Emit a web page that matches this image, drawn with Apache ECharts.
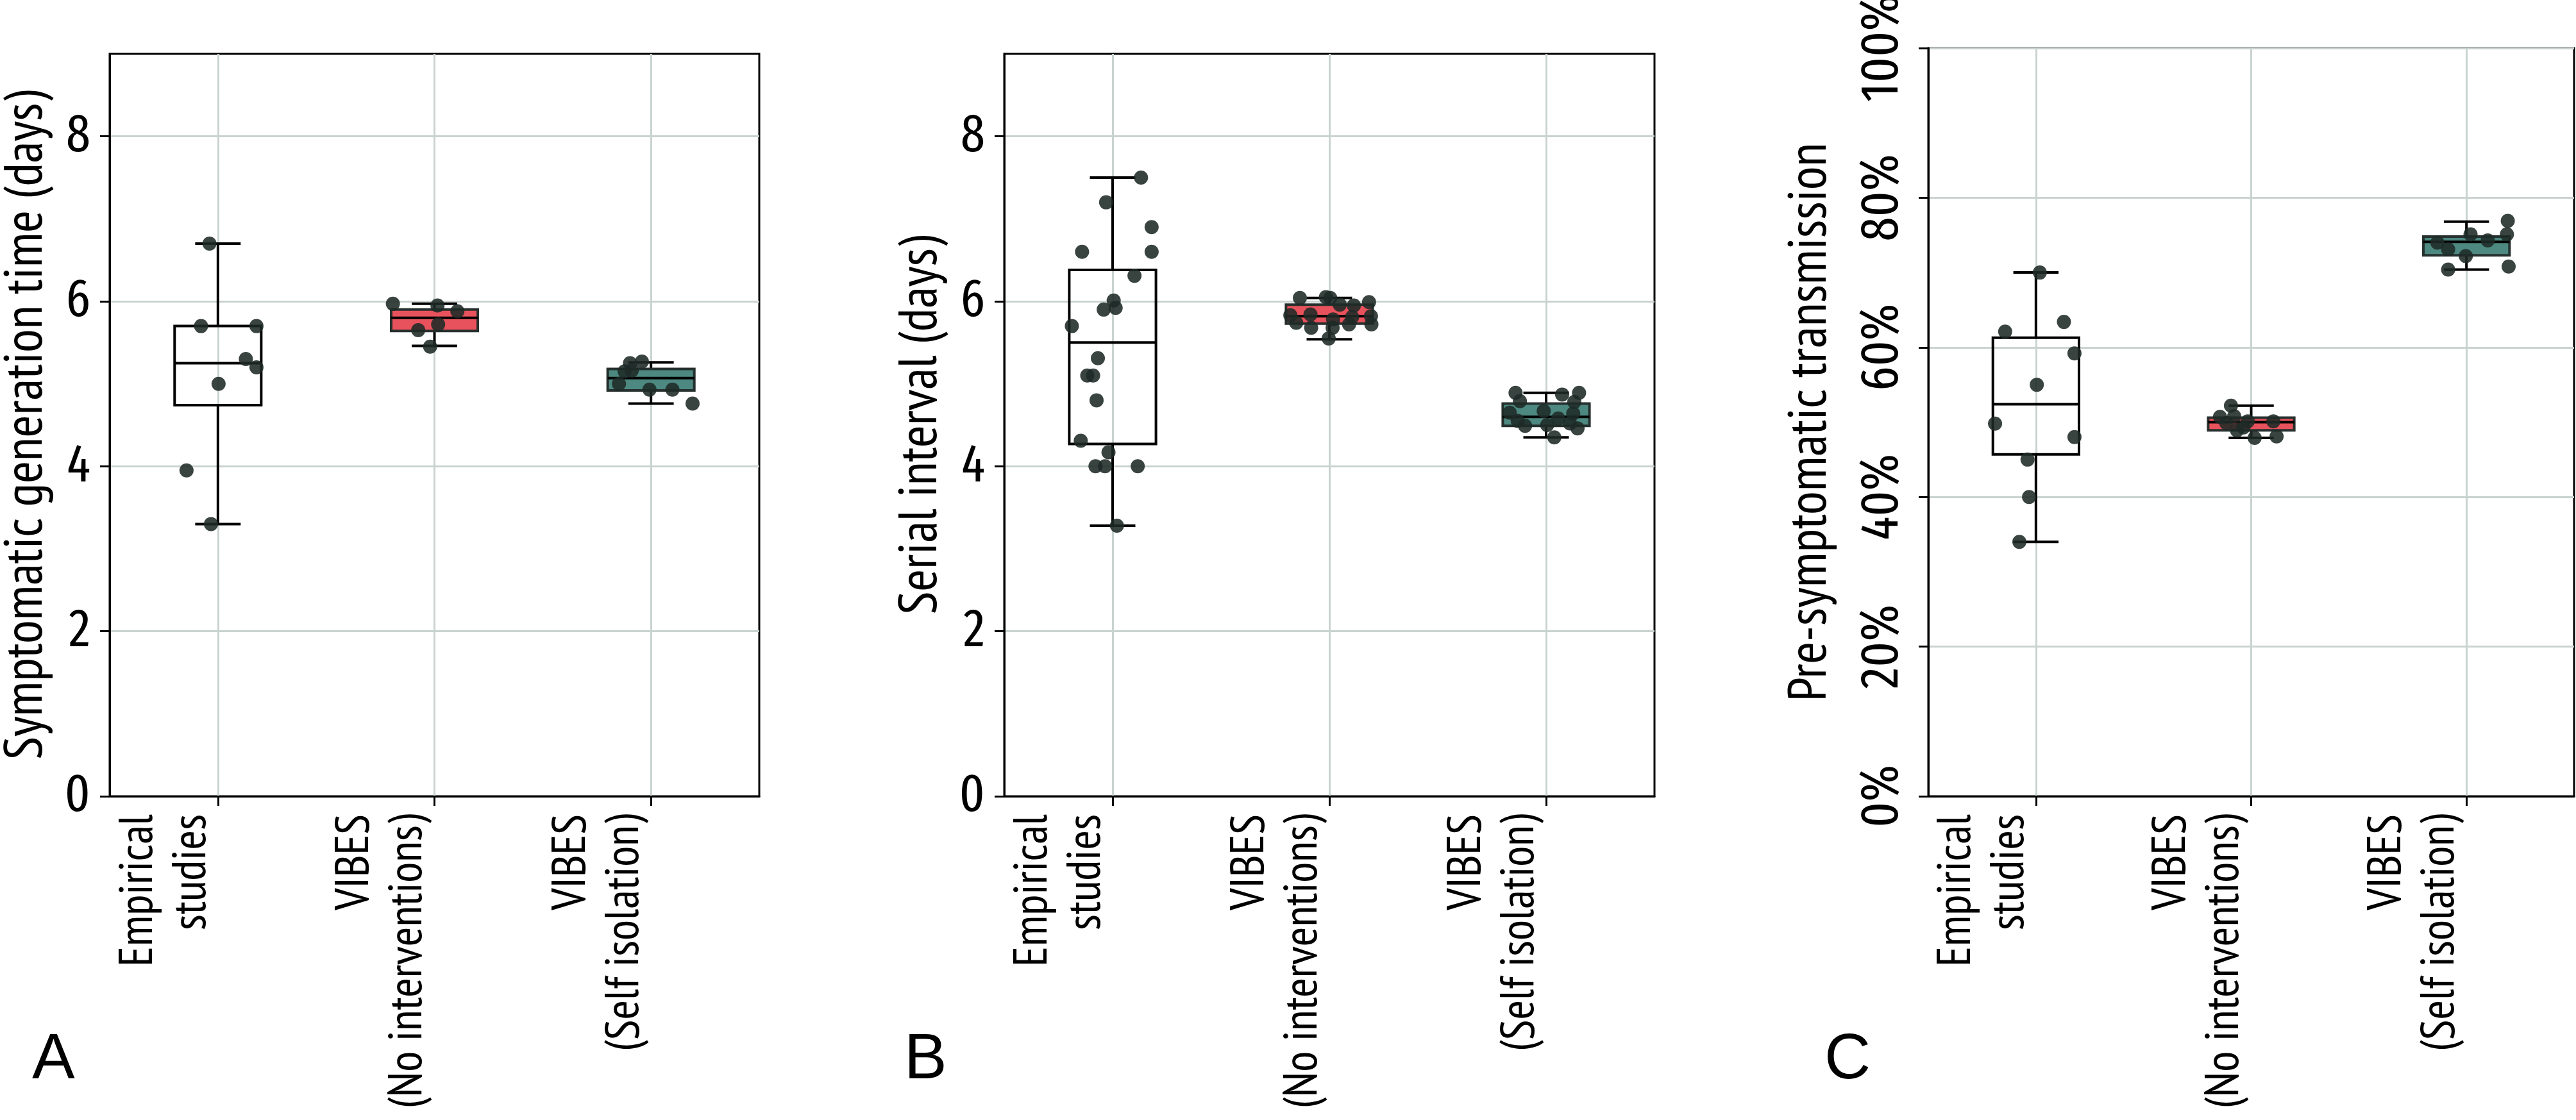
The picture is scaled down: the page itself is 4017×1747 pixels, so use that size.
<!DOCTYPE html>
<html><head><meta charset="utf-8">
<script src="https://cdn.jsdelivr.net/npm/echarts@6/dist/echarts.min.js"></script>
<style>html,body{margin:0;padding:0;background:#fff}#c{width:4017px;height:1747px}</style>
</head><body><div id="c"></div>
<script>
// ---------- data ----------
const categories = ['Empirical\nstudies', 'VIBES\n(No interventions)', 'VIBES\n(Self isolation)'];
const panelLetters = ['A', 'B', 'C'];
const yNames = ['Symptomatic generation time (days)', 'Serial interval (days)', 'Pre-symptomatic transmission'];
const yTicksDays = [0, 2, 4, 6, 8];
const yTicksPct = [0, 0.2, 0.4, 0.6, 0.8, 1.0];
const xTickPos = [0.5, 1.5, 2.5];

// box statistics: [lower whisker, Q1, median, Q3, upper whisker]
const genBox = [[3.30, 4.74, 5.25, 5.70, 6.70], [5.46, 5.64, 5.80, 5.90, 5.97], [4.76, 4.92, 5.07, 5.18, 5.26]];
const serBox = [[3.28, 4.27, 5.50, 6.38, 7.50], [5.54, 5.73, 5.82, 5.96, 6.04], [4.35, 4.49, 4.60, 4.76, 4.89]];
const preBox = [[0.340, 0.457, 0.524, 0.613, 0.700], [0.479, 0.489, 0.500, 0.506, 0.522], [0.704, 0.723, 0.741, 0.748, 0.768]];

// points: [horizontal jitter from category centre, value]
const genEmp = [[-0.039, 6.70], [-0.078, 5.70], [0.178, 5.70], [0.129, 5.30], [0.178, 5.20], [0.003, 5.00], [-0.145, 3.95], [-0.032, 3.30]];
const genNoInt = [[-0.192, 5.97], [0.014, 5.95], [0.106, 5.88], [0.017, 5.72], [-0.075, 5.65], [-0.020, 5.45]];
const genSelf = [[-0.097, 5.25], [-0.042, 5.27], [-0.122, 5.15], [-0.089, 5.16], [-0.148, 5.00], [-0.007, 4.93], [0.099, 4.93], [0.192, 4.76]];

const serEmp = [[0.131, 7.50], [-0.030, 7.20], [0.180, 6.90], [-0.141, 6.60], [0.180, 6.60], [0.101, 6.31], [0.005, 6.01], [0.014, 5.92], [-0.041, 5.90], [-0.188, 5.70],
  [-0.068, 5.31], [-0.117, 5.10], [-0.090, 5.10], [-0.074, 4.80], [-0.147, 4.31], [-0.019, 4.17], [-0.079, 4.00], [-0.035, 4.00], [0.116, 4.00], [0.020, 3.28]];
const serNoInt = [[-0.136, 6.04], [-0.016, 6.05], [0.004, 6.04], [0.048, 5.96], [0.113, 5.95], [0.183, 5.99], [-0.180, 5.83], [-0.087, 5.84], [0.192, 5.82],
  [0.105, 5.81], [0.017, 5.78], [-0.153, 5.74], [-0.084, 5.68], [0.091, 5.72], [0.194, 5.72], [0.015, 5.68], [-0.003, 5.55]];
const serSelf = [[-0.141, 4.89], [-0.121, 4.79], [0.074, 4.87], [0.152, 4.89], [0.130, 4.78], [-0.168, 4.65], [-0.011, 4.67], [0.125, 4.64],
  [0.056, 4.58], [-0.131, 4.55], [-0.097, 4.49], [0.005, 4.50], [0.110, 4.52], [0.145, 4.46], [0.038, 4.35]];

const preEmp = [[0.018, 0.700], [-0.143, 0.621], [0.130, 0.634], [0.179, 0.592], [0.004, 0.550], [-0.190, 0.498], [0.179, 0.480], [-0.039, 0.450], [-0.032, 0.400], [-0.077, 0.340]];
const preNoInt = [[-0.094, 0.522], [-0.145, 0.507], [-0.079, 0.508], [-0.016, 0.501], [0.103, 0.501], [-0.116, 0.499], [-0.036, 0.493], [-0.066, 0.489], [0.016, 0.479], [0.118, 0.481]];
const preSelf = [[0.192, 0.769], [0.188, 0.751], [0.019, 0.751], [0.099, 0.743], [-0.135, 0.740], [-0.085, 0.731], [-0.003, 0.722], [-0.085, 0.704], [0.196, 0.708]];

// ---------- styling ----------
const TEXTFONT = "'PT Sans Narrow', 'Fira Sans Extra Condensed', sans-serif";
const TICKFONT = "'Fira Sans Extra Condensed', 'PT Sans Narrow', sans-serif";
const GRIDC = '#c9d3d0';
const boxFills = ['rgba(0,0,0,0)', '#e8525c', '#4d8981'];
const boxEdges = ['#000000', '#26302e', '#26302e'];

const panels = [
  { box: genBox, pts: [genEmp, genNoInt, genSelf], grid: { left: 171, top: 84, width: 1013, height: 1158 }, pct: false, gap: 88 },
  { box: serBox, pts: [serEmp, serNoInt, serSelf], grid: { left: 1566, top: 84, width: 1014, height: 1158 }, pct: false, gap: 88 },
  { box: preBox, pts: [preEmp, preNoInt, preSelf], grid: { left: 3007, top: 75, width: 1007, height: 1167 }, pct: true, gap: 142 }
];
const letterPos = [{ left: 50, top: 1604 }, { left: 1410, top: 1604 }, { left: 2845, top: 1604 }];

function renderBox(params, api) {
  const i = api.value(0);
  const xc = i + 0.5;
  const unit = api.size([1, 0])[0];
  const bw = unit * 0.40, cw = unit * 0.105;
  const x = api.coord([xc, api.value(3)])[0];
  const yLo = api.coord([xc, api.value(1)])[1];
  const yQ1 = api.coord([xc, api.value(2)])[1];
  const yMed = api.coord([xc, api.value(3)])[1];
  const yQ3 = api.coord([xc, api.value(4)])[1];
  const yHi = api.coord([xc, api.value(5)])[1];
  const blk = { stroke: '#000', lineWidth: 4 };
  return {
    type: 'group', children: [
      { type: 'line', shape: { x1: x, y1: yQ3, x2: x, y2: yHi }, style: blk },
      { type: 'line', shape: { x1: x, y1: yQ1, x2: x, y2: yLo }, style: blk },
      { type: 'line', shape: { x1: x - cw, y1: yHi, x2: x + cw, y2: yHi }, style: blk },
      { type: 'line', shape: { x1: x - cw, y1: yLo, x2: x + cw, y2: yLo }, style: blk },
      { type: 'rect', shape: { x: x - bw / 2, y: yQ3, width: bw, height: yQ1 - yQ3 }, style: { fill: boxFills[i], stroke: boxEdges[i], lineWidth: 4 } },
      { type: 'line', shape: { x1: x - bw / 2, y1: yMed, x2: x + bw / 2, y2: yMed }, style: blk }
    ]
  };
}

const grid = [], xAxis = [], yAxis = [], series = [], title = [];
panels.forEach((p, k) => {
  grid.push(Object.assign({ show: true, borderColor: '#000', borderWidth: 3, backgroundColor: 'transparent', containLabel: false, outerBoundsMode: 'none' }, p.grid));
  xAxis.push({
    type: 'value', gridIndex: k, min: 0, max: 3,
    axisLine: { show: true, onZero: false, lineStyle: { color: '#000', width: 3 } },
    axisTick: { show: true, customValues: xTickPos, length: 15, lineStyle: { color: '#000', width: 3 } },
    axisLabel: {
      customValues: xTickPos, formatter: v => categories[Math.floor(v)], rotate: 90,
      align: 'right', verticalAlign: 'bottom', margin: 28,
      fontSize: 74, lineHeight: 83, color: '#000', fontFamily: TEXTFONT
    },
    splitLine: { show: true, lineStyle: { color: GRIDC, width: 3 } }
  });
  const ya = {
    type: 'value', gridIndex: k,
    axisLine: { show: true, lineStyle: { color: '#000', width: 3 } },
    splitLine: { show: true, lineStyle: { color: GRIDC, width: 3 } },
    name: yNames[k], nameLocation: 'middle', nameGap: p.gap,
    nameTextStyle: { fontSize: 84, color: '#000', fontFamily: TEXTFONT }
  };
  if (p.pct) {
    Object.assign(ya, {
      min: 0, max: 1, interval: 0.2,
      axisTick: { show: true, customValues: yTicksPct, length: 15, lineStyle: { color: '#000', width: 3 } },
      axisLabel: { customValues: yTicksPct, rotate: 90, margin: 30, fontSize: 83, color: '#000', fontFamily: TICKFONT, formatter: v => Math.round(v * 100) + '%' }
    });
  } else {
    Object.assign(ya, {
      min: 0, max: 9,
      axisTick: { show: true, customValues: yTicksDays, length: 15, lineStyle: { color: '#000', width: 3 } },
      axisLabel: { customValues: yTicksDays, margin: 30, fontSize: 83, color: '#000', fontFamily: TICKFONT }
    });
  }
  yAxis.push(ya);
  series.push({
    type: 'custom', xAxisIndex: k, yAxisIndex: k, renderItem: renderBox, z: 3,
    encode: { x: 0, y: [1, 2, 3, 4, 5] },
    data: p.box.map((b, i) => [i].concat(b))
  });
  const pts = [];
  p.pts.forEach((g, gi) => g.forEach(d => pts.push([gi + 0.5 + d[0], d[1]])));
  series.push({
    type: 'scatter', xAxisIndex: k, yAxisIndex: k, z: 5, symbol: 'circle', symbolSize: 22,
    itemStyle: { color: '#1e2a27', opacity: 0.88 }, data: pts
  });
  title.push({
    text: panelLetters[k], left: letterPos[k].left, top: letterPos[k].top, padding: 0,
    textStyle: { fontSize: 100, fontWeight: 'normal', color: '#000', fontFamily: "'Liberation Sans', sans-serif" }
  });
});

const chart = echarts.init(document.getElementById('c'), null, { renderer: 'canvas' });
chart.setOption({ animation: false, backgroundColor: '#fff', title, grid, xAxis, yAxis, series });
</script>
</body></html>
